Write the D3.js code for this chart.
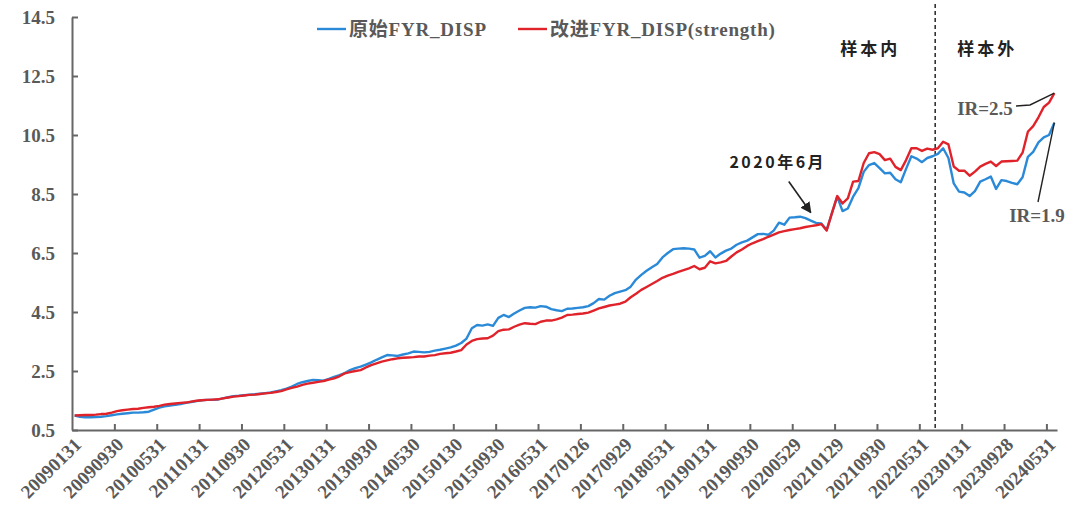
<!DOCTYPE html>
<html><head><meta charset="utf-8">
<script src="https://cdn.jsdelivr.net/npm/d3@7"></script>
<style>
html,body{margin:0;padding:0;background:#fff;}
svg{display:block;}
</style></head>
<body>
<svg id="c" width="1077" height="519"></svg>
<script>
// ---- data ----
const xTickLabels = ["20090131","20090930","20100531","20110131","20110930","20120531","20130131","20130930","20140530","20150130","20150930","20160531","20170126","20170929","20180531","20190131","20190930","20200529","20210129","20210930","20220531","20230131","20230928","20240531"];
const yTicks = [0.5,2.5,4.5,6.5,8.5,10.5,12.5,14.5];
const seriesNames = ["原始FYR_DISP","改进FYR_DISP(strength)"];
const original = [
0.99,0.95,0.93,0.93,0.94,0.95,0.97,1.00,1.03,1.05,1.07,1.09,
1.09,1.10,1.12,1.19,1.26,1.30,1.33,1.35,1.38,1.42,1.45,1.48,
1.51,1.52,1.52,1.53,1.57,1.61,1.65,1.66,1.68,1.70,1.71,1.73,
1.75,1.77,1.81,1.85,1.90,1.97,2.06,2.12,2.16,2.20,2.19,2.17,
2.23,2.30,2.36,2.43,2.53,2.60,2.65,2.72,2.79,2.88,2.96,3.04,
3.03,3.01,3.06,3.10,3.16,3.15,3.13,3.15,3.19,3.22,3.26,3.30,
3.36,3.45,3.60,3.95,4.06,4.04,4.08,4.03,4.30,4.40,4.33,4.45,
4.55,4.64,4.66,4.65,4.70,4.68,4.60,4.56,4.53,4.61,4.62,4.64,
4.66,4.70,4.80,4.94,4.92,5.05,5.14,5.19,5.24,5.36,5.60,5.76,
5.90,6.02,6.13,6.35,6.50,6.63,6.65,6.66,6.65,6.62,6.34,6.40,
6.56,6.35,6.48,6.58,6.65,6.78,6.86,6.92,7.03,7.14,7.15,7.12,
7.26,7.53,7.46,7.70,7.71,7.73,7.68,7.60,7.52,7.50,7.28,7.85,
8.41,7.92,8.01,8.41,8.70,9.25,9.48,9.55,9.38,9.20,9.22,9.00,
8.90,9.35,9.78,9.70,9.58,9.72,9.78,9.86,10.05,9.72,8.86,8.58,
8.55,8.43,8.60,8.92,9.00,9.09,8.67,8.97,8.94,8.88,8.83,9.07,
9.76,9.93,10.25,10.42,10.50,10.92];
const improved = [
0.99,1.00,1.01,1.01,1.02,1.04,1.05,1.09,1.14,1.17,1.19,1.21,
1.22,1.25,1.27,1.29,1.32,1.36,1.38,1.40,1.42,1.43,1.46,1.49,
1.51,1.52,1.53,1.54,1.57,1.60,1.63,1.65,1.67,1.69,1.70,1.72,
1.74,1.76,1.79,1.82,1.88,1.93,1.97,2.03,2.07,2.10,2.13,2.16,
2.21,2.25,2.32,2.42,2.46,2.50,2.53,2.62,2.70,2.76,2.82,2.86,
2.90,2.93,2.95,2.96,2.97,2.99,2.99,3.02,3.04,3.08,3.10,3.12,
3.16,3.21,3.40,3.52,3.58,3.60,3.61,3.70,3.85,3.90,3.91,4.00,
4.07,4.12,4.10,4.09,4.17,4.21,4.21,4.25,4.31,4.40,4.41,4.43,
4.45,4.48,4.55,4.62,4.67,4.72,4.75,4.78,4.85,5.00,5.12,5.25,
5.35,5.45,5.55,5.66,5.73,5.79,5.86,5.92,5.98,6.06,5.95,6.00,
6.22,6.15,6.18,6.23,6.38,6.52,6.62,6.74,6.83,6.90,6.97,7.05,
7.12,7.20,7.24,7.28,7.31,7.34,7.38,7.41,7.44,7.48,7.26,7.85,
8.43,8.18,8.35,8.92,8.94,9.55,9.88,9.92,9.85,9.65,9.70,9.42,
9.31,9.65,10.05,10.05,9.96,10.04,10.00,10.05,10.27,10.18,9.43,9.29,
9.29,9.12,9.26,9.43,9.52,9.60,9.45,9.60,9.61,9.62,9.63,9.90,
10.61,10.80,11.10,11.45,11.60,11.92];
const labelEvery = 8;
const splitIndex = 162.5;       // boundary between in-sample and out-of-sample
const noteIndex = 139;          // "2020年6月" arrow target
const irTexts = ["IR=2.5","IR=1.9"];

// ---- layout ----
const W = 1077, H = 519;
const mLeft = 72, mRight = 1057, mTop = 17, mBottom = 430;
const colors = ["#2b8ad8","#e0222a"];
const gray = "#595959";
const serif = "'Liberation Serif','Times New Roman','Noto Sans CJK SC',serif";
const cjk = "'Noto Sans CJK SC',sans-serif";

const svg = d3.select("#c");
svg.append("rect").attr("width",W).attr("height",H).attr("fill","#fff");

const n = original.length;
const x = d3.scaleLinear().domain([-0.5, n - 0.5]).range([mLeft, mRight]);
const y = d3.scaleLinear().domain([0.5, 14.5]).range([mBottom, mTop]);

// y axis
const yAxis = svg.append("g").attr("transform",`translate(${mLeft},0)`)
  .call(d3.axisLeft(y).tickValues(yTicks).tickSize(-6).tickFormat("").tickSizeOuter(0));
yAxis.select(".domain").attr("stroke","#666").attr("stroke-width",2);
yAxis.selectAll(".tick line").attr("stroke","#666").attr("stroke-width",2);
svg.append("g").selectAll("text").data(yTicks).join("text")
  .attr("x",55).attr("y",d=>y(d)).attr("dy","0.35em")
  .attr("text-anchor","end")
  .attr("font-family",serif).attr("font-weight","bold").attr("font-size",19)
  .attr("fill",gray).text(d=>d3.format(".1f")(d));

// x axis
const boundaries = d3.range(1, xTickLabels.length).map(k => k*labelEvery - 0.5);
const xAxis = svg.append("g").attr("transform",`translate(0,${mBottom})`)
  .call(d3.axisBottom(x).tickValues(boundaries).tickSize(-6).tickFormat("").tickSizeOuter(0));
xAxis.select(".domain").attr("stroke","#666").attr("stroke-width",2);
xAxis.selectAll(".tick line").attr("stroke","#666").attr("stroke-width",2);
svg.append("g").selectAll("text").data(xTickLabels).join("text")
  .attr("transform",(d,i)=>`translate(${x(i*labelEvery)+3},${mBottom+11}) rotate(-45)`)
  .attr("dy","0.35em").attr("text-anchor","end")
  .attr("font-family",serif).attr("font-weight","bold").attr("font-size",19)
  .attr("fill",gray).text(d=>d);

// split line
svg.append("line")
  .attr("x1",x(splitIndex)).attr("x2",x(splitIndex))
  .attr("y1",4).attr("y2",mBottom)
  .attr("stroke","#333").attr("stroke-width",1.6).attr("stroke-dasharray","4,3");

// lines
const line = d3.line().x((d,i)=>x(i)).y(d=>y(d));
[original, improved].forEach((s,k)=>{
  svg.append("path").datum(s).attr("d",line)
    .attr("fill","none").attr("stroke",colors[k]).attr("stroke-width",2.4)
    .attr("stroke-linejoin","round");
});

// legend
const legendX = [317, 518];
seriesNames.forEach((name,k)=>{
  svg.append("line").attr("x1",legendX[k]).attr("x2",legendX[k]+29)
    .attr("y1",29).attr("y2",29).attr("stroke",colors[k]).attr("stroke-width",2.4);
  svg.append("text").attr("x",legendX[k]+32).attr("y",29).attr("dy","0.35em")
    .attr("font-family",serif).attr("font-weight","bold").attr("font-size",19)
    .attr("letter-spacing",0.8).attr("fill",gray).text(name);
});

// region labels
const regionTexts = ["样本内","样本外"];
[x(splitIndex)-65, x(splitIndex)+52].forEach((cx,k)=>{
  svg.append("text").attr("x",cx).attr("y",49).attr("dy","0.35em")
    .attr("text-anchor","middle").attr("font-family",cjk).attr("font-weight","bold")
    .attr("font-size",17).attr("letter-spacing",3).attr("fill","#222").text(regionTexts[k]);
});

// 2020年6月 annotation
const defs = svg.append("defs");
defs.append("marker").attr("id","arr").attr("viewBox","0 0 10 10")
  .attr("refX",9).attr("refY",5).attr("markerWidth",11).attr("markerHeight",11)
  .attr("orient","auto").attr("markerUnits","userSpaceOnUse")
  .append("path").attr("d","M0,0 L10,5 L0,10 z").attr("fill","#222");
const tipX = x(noteIndex), tipY = y(original[noteIndex]) - 8;
svg.append("line").attr("x1",tipX-22).attr("y1",tipY-31).attr("x2",tipX).attr("y2",tipY)
  .attr("stroke","#222").attr("stroke-width",1.6).attr("marker-end","url(#arr)");
svg.append("text").attr("x",tipX-33).attr("y",tipY-50).attr("dy","0.35em")
  .attr("text-anchor","middle").attr("font-family",cjk).attr("font-weight","bold")
  .attr("font-size",16).attr("letter-spacing",2.5).attr("fill","#222").text("2020年6月");

// IR labels
const endX = x(n-1);
const redEndY = y(improved[n-1]), blueEndY = y(original[n-1]);
svg.append("text").attr("x",985).attr("y",108).attr("dy","0.35em").attr("text-anchor","middle")
  .attr("font-family",serif).attr("font-weight","bold").attr("font-size",19)
  .attr("fill",gray).text(irTexts[0]);
svg.append("polyline")
  .attr("points",`1016,106 1030,105 ${endX},${redEndY}`)
  .attr("fill","none").attr("stroke","#222").attr("stroke-width",1.4);
svg.append("text").attr("x",1037).attr("y",215).attr("dy","0.35em").attr("text-anchor","middle")
  .attr("font-family",serif).attr("font-weight","bold").attr("font-size",19)
  .attr("fill",gray).text(irTexts[1]);
svg.append("line").attr("x1",1038).attr("y1",202).attr("x2",endX).attr("y2",blueEndY)
  .attr("stroke","#222").attr("stroke-width",1.4);
</script>
</body></html>
